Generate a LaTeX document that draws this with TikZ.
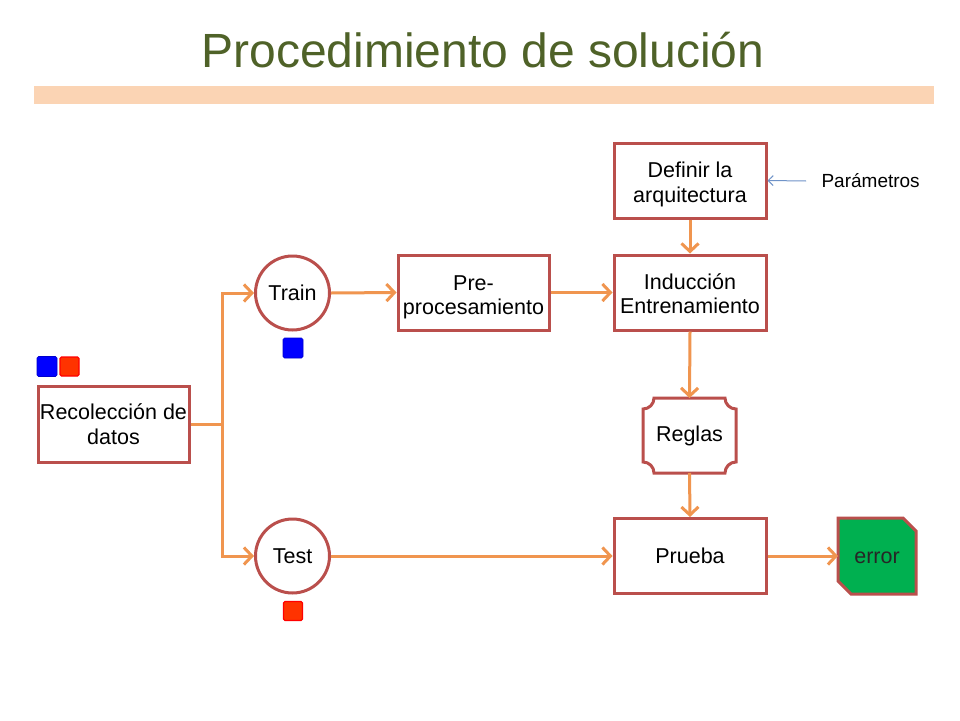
\documentclass[tikz,border=0pt]{standalone}
\usepackage{fontspec}
\setmainfont{Liberation Sans}
\usetikzlibrary{arrows.meta,calc}
\definecolor{titlegreen}{HTML}{4F6228}
\definecolor{band}{HTML}{FBD4B4}
\definecolor{boxred}{HTML}{BA4F4C}
\definecolor{conn}{HTML}{F0954F}
\definecolor{paramblue}{HTML}{6F93C8}
\definecolor{errgreen}{HTML}{00B050}
\definecolor{sqred}{HTML}{FF3300}
\tikzset{
  boxnode/.style={draw=boxred,line width=3pt,fill=white,minimum width=152pt,minimum height=75pt,align=center,font=\fontsize{21.5}{24.5}\selectfont,inner sep=1pt},
  circnode/.style={draw=boxred,line width=3pt,fill=white,circle,minimum size=74pt,inner sep=0pt,font=\fontsize{21.5}{24.5}\selectfont},
  flow/.style={draw=conn,line width=3pt,-{Straight Barb[length=8pt,width=17pt,line width=3pt]}},
  flowplain/.style={draw=conn,line width=3pt},
  bluesq/.style={fill=blue,draw=blue!80!black,line width=0.6pt,rounded corners=1.5pt,minimum size=20pt,inner sep=0pt},
  redsq/.style={fill=sqred,draw=red,line width=1.2pt,rounded corners=1.5pt,minimum size=19pt,inner sep=0pt},
}
\begin{document}
\begin{tikzpicture}[x=1pt,y=-1pt]
\useasboundingbox (0,0) rectangle (960,720);
\fill[white] (0,0) rectangle (960,720);
% title
\node[text=titlegreen,font=\fontsize{48}{58}\selectfont] (title) at (483,50) {Procedimiento de solución};
\fill[band] (34,86) rectangle (934,104);
% nodes
\node[boxnode] (def) at (690,180.5) {\rule{0pt}{23pt}Definir la\\arquitectura};
\node[font=\fontsize{19}{22}\selectfont,anchor=west] (param) at (818,181) {Parámetros};
\node[circnode] (train) at (292.5,293) {Train};
\node[boxnode,minimum width=151pt] (pre) at (473.5,292.5) {\rule{0pt}{24pt}Pre-\\procesamiento};
\node[boxnode] (ind) at (690,292.5) {\rule{0pt}{18pt}Inducción\\Entrenamiento};
\node[bluesq] (sqtrain) at (293,348) {};
\node[bluesq] (sqb) at (47,366.5) {};
\node[redsq] (sqr) at (69.5,366.5) {};
\node[boxnode,minimum width=151pt,minimum height=76pt] (rec) at (113.5,424) {Recolección de\\datos};
% Reglas plaque
\coordinate (reg) at (689.5,435.5);
\def\rr{11}
\filldraw[draw=boxred,fill=white,line width=3pt]
  (643+\rr,398) -- (736-\rr,398) arc[start angle=180,end angle=90,radius=\rr]
  -- (736,473-\rr) arc[start angle=270,end angle=180,radius=\rr]
  -- (643+\rr,473) arc[start angle=0,end angle=-90,radius=\rr]
  -- (643,398+\rr) arc[start angle=90,end angle=0,radius=\rr] -- cycle;
\node[font=\fontsize{21.5}{24.5}\selectfont] (reglas) at (reg) {Reglas};
\coordinate (regtop) at (689.5,398);
\coordinate (regbot) at (689.5,473);
\node[circnode] (test) at (292.5,556) {Test};
\node[redsq] (sqtest) at (293,611) {};
\node[boxnode] (prueba) at (690,556) {Prueba};
% error snipped box
\filldraw[draw=boxred,fill=errgreen,line width=3pt]
  (838,518) -- (903,518) -- (916,531) -- (916,594) -- (851,594) -- (838,581) -- cycle;
\node[font=\fontsize{21.5}{24.5}\selectfont,text=black!85] (err) at (877,558) {error};
\coordinate (errw) at (838,556);
% connectors
\coordinate (split) at (222,424);
\draw[flowplain] (rec.east) -- (split);
\draw[flow] (split) |- (train.west);
\draw[flow] (split) |- (test.west);
\draw[flow] (train.east) -- (pre.west);
\draw[flow] (pre.east) -- (ind.west);
\draw[flow] (def.south) -- (ind.north);
\draw[flow] (ind.south) -- (regtop);
\draw[flow] (regbot) -- (prueba.north);
\draw[flow] (test.east) -- (prueba.west);
\draw[flow] (prueba.east) -- (errw);
\draw[draw=paramblue,line width=1pt,-{Straight Barb[length=5pt,width=10pt]}] (param.west) ++(-12,0) coordinate (pstart) (pstart) -- (def.east);
\end{tikzpicture}
\end{document}
